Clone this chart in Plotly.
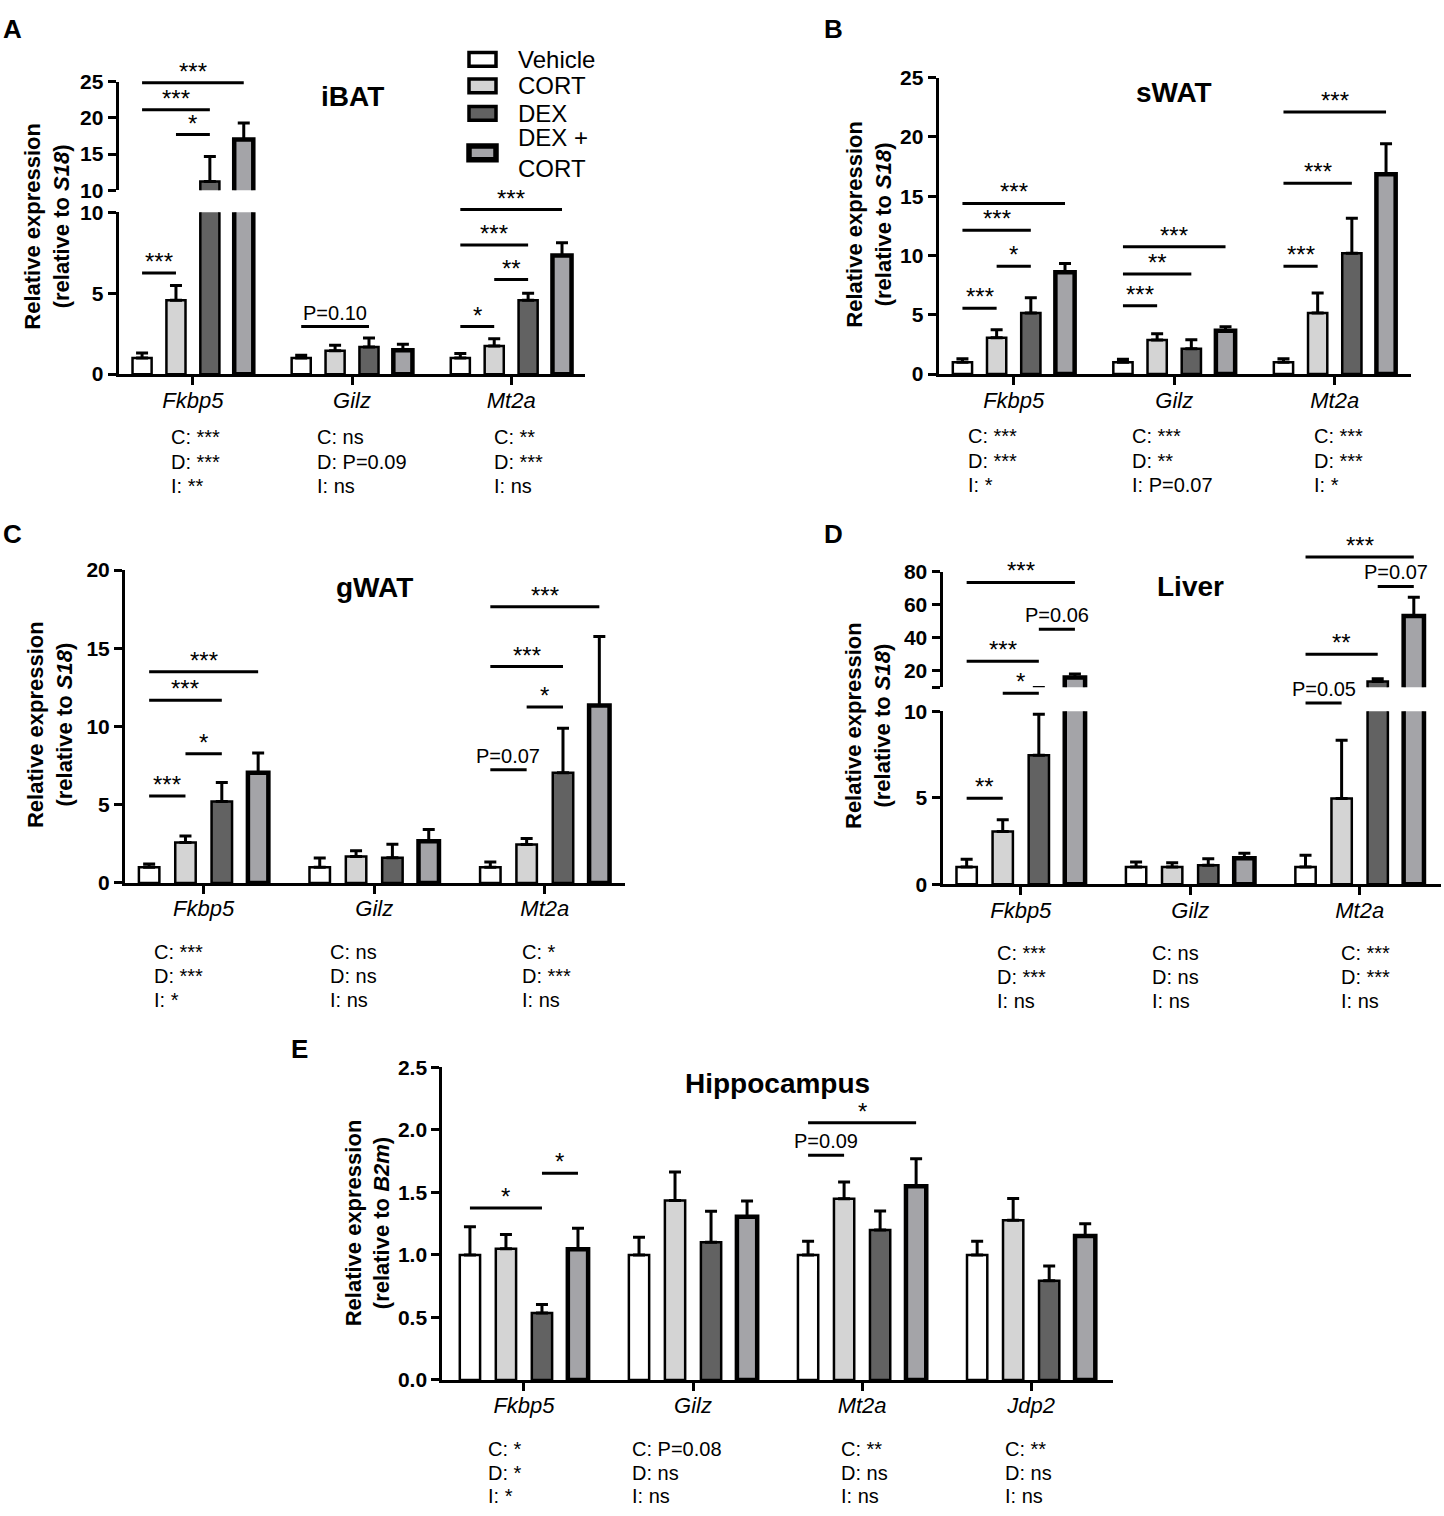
import plotly.graph_objects as go

W, H = 1444, 1516
FONT = "Liberation Sans, Arial, sans-serif"

GENES = ["Fkbp5", "Gilz", "Mt2a"]
GENES_HIPPO = ["Fkbp5", "Gilz", "Mt2a", "Jdp2"]
TREATMENTS = ["Vehicle", "CORT", "DEX", "DEX +<br>CORT"]

# one row per treatment (Vehicle, CORT, DEX, DEX+CORT), one column per gene
IBAT_MEAN = [[1.0, 1.0, 1.0], [4.56, 1.44, 1.73], [11.2, 1.68, 4.56], [17.0, 1.48, 7.32]]
IBAT_SEM = [[0.31, 0.17, 0.27], [0.91, 0.35, 0.46], [3.46, 0.55, 0.43], [2.29, 0.37, 0.79]]

SWAT_MEAN = [[1.0, 1.0, 1.0], [3.07, 2.88, 5.15], [5.15, 2.13, 10.19], [8.59, 3.65, 16.86]]
SWAT_SEM = [[0.29, 0.25, 0.29], [0.67, 0.52, 1.69], [1.30, 0.77, 2.96], [0.74, 0.35, 2.57]]

GWAT_MEAN = [[1.0, 1.0, 1.0], [2.58, 1.68, 2.45], [5.2, 1.61, 7.05], [7.05, 2.66, 11.35]]
GWAT_SEM = [[0.21, 0.59, 0.34], [0.42, 0.37, 0.38], [1.22, 0.86, 2.84], [1.26, 0.76, 4.41]]

LIVER_MEAN = [[1.0, 1.0, 1.0], [3.05, 1.0, 4.95], [7.45, 1.1, 13.45], [16.0, 1.5, 53.1]]
LIVER_SEM = [[0.44, 0.29, 0.67], [0.68, 0.25, 3.37], [2.37, 0.37, 1.75], [2.0, 0.29, 11.4]]

HIPPO_MEAN = [[1.0, 1.0, 1.0, 1.0], [1.05, 1.436, 1.449, 1.278],
              [0.535, 1.102, 1.2, 0.793], [1.045, 1.305, 1.549, 1.152]]
HIPPO_SEM = [[0.226, 0.142, 0.11, 0.11], [0.113, 0.228, 0.134, 0.173],
             [0.069, 0.247, 0.152, 0.118], [0.168, 0.126, 0.22, 0.098]]

# significance brackets: (gene, first treatment, last treatment, height, label)
# split panels (iBAT, Liver) give heights on the lower-segment scale
IBAT_SIG = [(0, 0, 3, 18.0, "***"), (0, 0, 2, 16.33, "***"), (0, 1, 2, 14.8, "*"),
            (0, 0, 1, 6.25, "***"), (1, 0, 2, 2.94, "P=0.10"), (2, 0, 3, 10.16, "***"),
            (2, 0, 2, 7.97, "***"), (2, 1, 2, 5.84, "**"), (2, 0, 1, 2.94, "*")]
SWAT_SIG = [(0, 0, 3, 14.4, "***"), (0, 0, 2, 12.13, "***"), (0, 1, 2, 9.09, "*"),
            (0, 0, 1, 5.56, "***"), (1, 0, 3, 10.75, "***"), (1, 0, 2, 8.45, "**"),
            (1, 0, 1, 5.76, "***"), (2, 0, 3, 22.1, "***"), (2, 0, 2, 16.09, "***"),
            (2, 0, 1, 9.09, "***")]
GWAT_SIG = [(0, 0, 3, 13.5, "***"), (0, 0, 2, 11.67, "***"), (0, 1, 2, 8.25, "*"),
            (0, 0, 1, 5.56, "***"), (2, 0, 3, 17.65, "***"), (2, 0, 2, 13.83, "***"),
            (2, 1, 2, 11.25, "*"), (2, 0, 1, 7.24, "P=0.07")]
LIVER_SIG = [(0, 0, 3, 17.44, "***"), (0, 0, 2, 12.89, "***"), (0, 2, 3, 14.74, "P=0.06"),
             (0, 1, 2, 11.04, "*"), (0, 0, 1, 4.97, "**"), (2, 0, 3, 18.92, "***"),
             (2, 2, 3, 17.21, "P=0.07"), (2, 0, 2, 13.3, "**"), (2, 0, 1, 10.47, "P=0.05")]
HIPPO_SIG = [(0, 0, 2, 1.375, "*"), (0, 2, 3, 1.654, "*"), (2, 0, 3, 2.058, "*"),
             (2, 0, 1, 1.798, "P=0.09")]

# two-way ANOVA summary under each gene (C: CORT, D: DEX, I: interaction)
IBAT_STATS = [["C: ***", "D: ***", "I: **"], ["C: ns", "D: P=0.09", "I: ns"], ["C: **", "D: ***", "I: ns"]]
SWAT_STATS = [["C: ***", "D: ***", "I: *"], ["C: ***", "D: **", "I: P=0.07"], ["C: ***", "D: ***", "I: *"]]
GWAT_STATS = [["C: ***", "D: ***", "I: *"], ["C: ns", "D: ns", "I: ns"], ["C: *", "D: ***", "I: ns"]]
LIVER_STATS = [["C: ***", "D: ***", "I: ns"], ["C: ns", "D: ns", "I: ns"], ["C: ***", "D: ***", "I: ns"]]
HIPPO_STATS = [["C: *", "D: *", "I: *"], ["C: P=0.08", "D: ns", "I: ns"],
               ["C: **", "D: ns", "I: ns"], ["C: **", "D: ns", "I: ns"]]

COLORS = ["#ffffff", "#d4d4d4", "#626262", "#a4a4a8"]
EDGE_W = [2.5, 2.5, 2.5, 4.5]
BAR_STEP = 0.213
BAR_W = 0.12

AX_STYLE = dict(showline=True, linecolor="black", linewidth=3, ticks="outside",
                ticklen=8, tickwidth=3, tickcolor="black", showgrid=False, zeroline=False)

fig = go.Figure()
axes = {}


def key(ref):
    return ref[0] + "axis" + ref[1:]


def bar_x(g, t):
    return g + (t - 1.5) * BAR_STEP


def set_x(ref, left, right, rng, genes, anchor):
    axes[key(ref)] = dict(
        domain=[left / W, right / W], range=rng, anchor=anchor,
        tickmode="array", tickvals=list(range(len(genes))),
        ticktext=[f"<i>{g}</i>" for g in genes], ticklabelstandoff=-4,
        tickfont=dict(family=FONT, size=22, color="black"), **AX_STYLE)


def set_y(ref, top, bottom, rng, tickvals, anchor, ticktext=None, fmt=None):
    d = dict(domain=[1 - bottom / H, 1 - top / H], range=rng, anchor=anchor,
             tickmode="array", tickvals=tickvals,
             tickfont=dict(family=FONT, size=21, color="black", weight="bold"), **AX_STYLE)
    if ticktext is not None:
        d["ticktext"] = ticktext
    if fmt:
        d["tickformat"] = fmt
    axes[key(ref)] = d


def set_hidden_y(ref, top, bottom, low_top, anchor):
    # invisible axis for brackets, same scale as the lower 0-10 segment, stretched upward
    axes[key(ref)] = dict(domain=[1 - bottom / H, 1 - top / H],
                          range=[0, 10 * (bottom - top) / (bottom - low_top)],
                          anchor=anchor, visible=False)


def add_bars(mean, sem, xref, yref):
    n = len(mean[0])
    for t in range(4):
        fig.add_trace(go.Bar(
            x=[bar_x(g, t) for g in range(n)], y=mean[t], width=BAR_W,
            name=TREATMENTS[t], showlegend=False, hoverinfo="skip",
            marker=dict(color=COLORS[t], line=dict(color="black", width=EDGE_W[t])),
            error_y=dict(type="data", array=sem[t], arrayminus=[0] * n, symmetric=False,
                         color="black", thickness=3, width=6),
            xaxis=xref, yaxis=yref))


def add_sig(sig, xref, yref):
    for g, t0, t1, h, label in sig:
        x0, x1 = bar_x(g, t0), bar_x(g, t1)
        stars = label.startswith("*")
        fig.add_shape(type="line", xref=xref, yref=yref, x0=x0, x1=x1, y0=h, y1=h,
                      line=dict(color="black", width=3))
        fig.add_annotation(xref=xref, yref=yref, x=(x0 + x1) / 2, y=h, text=label,
                           showarrow=False, yanchor="bottom", yshift=-4 if stars else 1,
                           font=dict(family=FONT, size=24 if stars else 20, color="black"))


def add_stats(stats, lefts, xref, y_first, step=24.5):
    for lines, xl in zip(stats, lefts):
        for i, line in enumerate(lines):
            fig.add_annotation(xref=xref, yref="paper", x=xl, y=1 - (y_first + i * step) / H,
                               text=line, xanchor="left", yanchor="middle", showarrow=False,
                               font=dict(family=FONT, size=20, color="black"))


def add_text(text, x, y, size, xref="paper", angle=0):
    fig.add_annotation(xref=xref, yref="paper", x=x, y=1 - y / H, text=text,
                       showarrow=False, textangle=angle, xanchor="center", yanchor="middle",
                       font=dict(family=FONT, size=size, color="black", weight="bold"))


Y_TITLE = "Relative expression<br>(relative to <i>{}</i>)"

# A - iBAT (split axis)
set_x("x", 118.6, 585, [-0.467, 2.464], GENES, "y")
set_y("y", 203.3, 367.7, [0, 10], [0, 5, 10], "x")
set_y("y2", 70.7, 181, [10, 25], [10, 15, 20, 25], "x")
set_hidden_y("y3", 40, 367.7, 203.3, "x")
add_bars(IBAT_MEAN, IBAT_SEM, "x", "y")
add_bars(IBAT_MEAN, IBAT_SEM, "x", "y2")
add_sig(IBAT_SIG, "x", "y3")
add_stats(IBAT_STATS, [-0.15, 0.769, 1.88], "x", 432)
add_text("iBAT", 1, 86, 28, xref="x")
add_text(Y_TITLE.format("S18"), 47 / W, 218, 22, angle=-90)
add_text("A", 12 / W, 17, 26)

# legend keys for the four treatments, drawn beside the iBAT title
LEGEND_ROWS = [48, 75, 103, 143]
for t, yc in enumerate(LEGEND_ROWS):
    fig.add_shape(type="rect", xref="paper", yref="paper",
                  x0=469 / W, x1=496 / W, y0=1 - (yc + 7) / H, y1=1 - (yc - 7) / H,
                  fillcolor=COLORS[t], line=dict(color="black", width=EDGE_W[t] + 1))
    fig.add_annotation(xref="paper", yref="paper", x=516 / W, y=1 - yc / H,
                       text=TREATMENTS[t], showarrow=False, xanchor="left",
                       yanchor="middle", align="left",
                       font=dict(family=FONT, size=24, color="black"))

# B - sWAT
set_x("x2", 938.6, 1411, [-0.468, 2.475], GENES, "y4")
set_y("y4", 66.7, 367.7, [0, 25], [0, 5, 10, 15, 20, 25], "x2")
add_bars(SWAT_MEAN, SWAT_SEM, "x2", "y4")
add_sig(SWAT_SIG, "x2", "y4")
add_stats(SWAT_STATS, [-0.30, 0.723, 1.86], "x2", 431)
add_text("sWAT", 1, 82, 28, xref="x2")
add_text(Y_TITLE.format("S18"), 869 / W, 216, 22, angle=-90)
add_text("B", 833 / W, 17, 26)

# C - gWAT
set_x("x3", 125, 625, [-0.461, 2.47], GENES, "y5")
set_y("y5", 566.7, 884.3, [0, 20], [0, 5, 10, 15, 20], "x3")
add_bars(GWAT_MEAN, GWAT_SEM, "x3", "y5")
add_sig(GWAT_SIG, "x3", "y5")
add_stats(GWAT_STATS, [-0.30, 0.73, 1.855], "x3", 954)
add_text("gWAT", 1, 584, 28, xref="x3")
add_text(Y_TITLE.format("S18"), 50 / W, 724, 22, angle=-90)
add_text("C", 12 / W, 530, 26)

# D - Liver (split axis)
set_x("x4", 942.5, 1441, [-0.462, 2.48], GENES, "y6")
set_y("y6", 710, 885.7, [0, 10], [0, 5, 10], "x4")
set_y("y7", 568.3, 685.7, [10, 80], [10, 20, 40, 60, 80], "x4",
      ticktext=["", "20", "40", "60", "80"])
set_hidden_y("y8", 530, 885.7, 710, "x4")
add_bars(LIVER_MEAN, LIVER_SEM, "x4", "y6")
add_bars(LIVER_MEAN, LIVER_SEM, "x4", "y7")
add_sig(LIVER_SIG, "x4", "y8")
add_stats(LIVER_STATS, [-0.152, 0.76, 1.88], "x4", 955)
add_text("Liver", 1, 583, 28, xref="x4")
add_text(Y_TITLE.format("S18"), 868 / W, 725, 22, angle=-90)
add_text("D", 833 / W, 530, 26)

# E - Hippocampus
set_x("x5", 442.3, 1113, [-0.483, 3.484], GENES_HIPPO, "y9")
set_y("y9", 1071.7, 1389, [0, 2.5], [0, 0.5, 1, 1.5, 2, 2.5], "x5", fmt=".1f")
add_bars(HIPPO_MEAN, HIPPO_SEM, "x5", "y9")
add_sig(HIPPO_SIG, "x5", "y9")
add_stats(HIPPO_STATS, [-0.226, 0.629, 1.861, 2.836], "x5", 1459, step=24)
add_text("Hippocampus", 1.5, 1088, 28, xref="x5")
add_text(Y_TITLE.format("B2m"), 368 / W, 1230, 22, angle=-90)
add_text("E", 299 / W, 1053, 26)

fig.update_layout(
    width=W, height=H, autosize=False,
    margin=dict(l=0, r=0, t=0, b=0),
    paper_bgcolor="white", plot_bgcolor="rgba(0,0,0,0)",
    barmode="overlay", hovermode=False, showlegend=False,
    font=dict(family=FONT, color="black"),
    **axes,
)

# pin the plot to the page corner so the body margin does not shift it
PIN = ("document.body.style.margin='0';document.body.style.overflow='hidden';"
       "var d=document.getElementById('{plot_id}');"
       "d.style.position='absolute';d.style.left='0px';d.style.top='0px';")
fig.write_html("out.html", config={"displayModeBar": False}, post_script=PIN)
